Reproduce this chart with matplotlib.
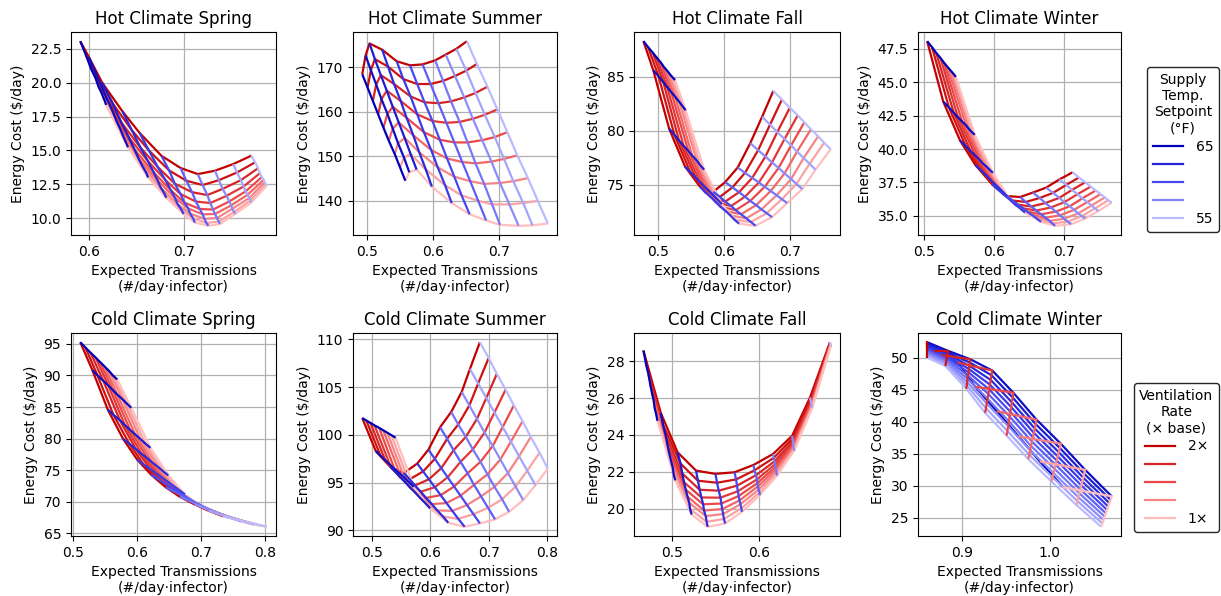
import numpy as np
import matplotlib
matplotlib.use("Agg")
import matplotlib.pyplot as plt
from matplotlib.colors import LinearSegmentedColormap
from matplotlib.lines import Line2D

# ---------------- data ----------------
# rows = supply temperature setpoint (65 F -> 55 F), columns = ventilation rate (2x -> 1x)
titles = ["Hot Climate Spring", "Hot Climate Summer", "Hot Climate Fall", "Hot Climate Winter",
          "Cold Climate Spring", "Cold Climate Summer", "Cold Climate Fall", "Cold Climate Winter"]

hot_spring_x = [
    [.591, .597, .602, .607, .610, .613, .615, .617, .618],
    [.600, .609, .617, .624, .629, .633, .636, .639, .641],
    [.614, .625, .634, .642, .648, .652, .656, .660, .662],
    [.635, .645, .654, .662, .668, .672, .675, .679, .681],
    [.653, .663, .672, .680, .686, .690, .693, .697, .699],
    [.676, .684, .690, .696, .700, .704, .706, .709, .711],
    [.696, .702, .708, .712, .716, .719, .721, .723, .725],
    [.714, .719, .724, .727, .730, .732, .734, .736, .737],
    [.732, .736, .740, .744, .747, .749, .750, .752, .753],
    [.751, .755, .759, .762, .764, .766, .768, .769, .770],
    [.770, .774, .777, .779, .781, .783, .784, .785, .786]]
hot_spring_y = [
    [23.07, 22.03, 21.09, 20.34, 19.73, 19.30, 18.93, 18.60, 18.36],
    [21.90, 20.43, 19.10, 18.03, 17.16, 16.56, 16.03, 15.56, 15.23],
    [20.00, 18.46, 17.06, 15.94, 15.03, 14.40, 13.84, 13.35, 13.00],
    [17.90, 16.49, 15.21, 14.19, 13.36, 12.78, 12.27, 11.82, 11.50],
    [16.30, 14.98, 13.78, 12.82, 12.04, 11.50, 11.02, 10.60, 10.30],
    [14.60, 13.52, 12.54, 11.77, 11.14, 10.71, 10.33, 9.99, 9.67],
    [13.70, 12.76, 11.91, 11.22, 10.67, 10.28, 9.94, 9.64, 9.43],
    [13.25, 12.44, 11.70, 11.11, 10.63, 10.30, 10.00, 9.74, 9.56],
    [13.50, 12.80, 12.16, 11.64, 11.23, 10.94, 10.68, 10.46, 10.30],
    [13.99, 13.37, 12.80, 12.34, 11.97, 11.72, 11.49, 11.29, 11.15],
    [14.61, 14.12, 13.68, 13.32, 13.03, 12.83, 12.66, 12.50, 12.39]]

hot_summer_x = [
    [.493, .501, .509, .517, .525, .533, .542, .550, .558],
    [.498, .506, .514, .522, .531, .539, .547, .556, .564],
    [.504, .512, .521, .530, .539, .548, .557, .566, .575],
    [.523, .532, .541, .551, .560, .570, .579, .589, .598],
    [.545, .555, .566, .576, .586, .597, .607, .618, .628],
    [.565, .576, .587, .599, .610, .621, .632, .643, .655],
    [.584, .596, .608, .620, .632, .644, .656, .668, .680],
    [.603, .615, .627, .640, .652, .664, .677, .689, .701],
    [.619, .633, .647, .660, .674, .688, .701, .715, .729],
    [.635, .650, .664, .678, .693, .707, .721, .736, .750],
    [.651, .666, .682, .697, .712, .727, .743, .758, .773]]
hot_summer_y = [
    [168.4, 165.4, 162.4, 159.4, 156.4, 153.5, 150.5, 147.5, 144.5],
    [172.6, 169.3, 166.1, 162.8, 159.5, 156.2, 152.9, 149.7, 146.4],
    [175.3, 171.8, 168.2, 164.7, 161.1, 157.6, 154.1, 150.5, 147.0],
    [173.9, 170.1, 166.2, 162.4, 158.6, 154.7, 150.9, 147.0, 143.2],
    [171.3, 167.3, 163.4, 159.4, 155.4, 151.4, 147.5, 143.5, 139.5],
    [170.4, 166.2, 162.1, 157.9, 153.7, 149.5, 145.4, 141.2, 137.0],
    [170.6, 166.2, 161.9, 157.5, 153.1, 148.7, 144.4, 140.0, 135.6],
    [171.5, 166.9, 162.3, 157.7, 153.1, 148.4, 143.8, 139.2, 134.6],
    [172.8, 168.0, 163.2, 158.4, 153.6, 148.8, 144.0, 139.2, 134.4],
    [174.1, 169.2, 164.2, 159.3, 154.3, 149.4, 144.4, 139.5, 134.5],
    [175.8, 170.7, 165.6, 160.5, 155.4, 150.2, 145.1, 140.0, 134.9]]

hot_fall_x = [
    [.478, .485, .492, .498, .504, .509, .515, .520, .526],
    [.493, .501, .508, .514, .520, .526, .532, .537, .542],
    [.517, .525, .532, .539, .546, .552, .559, .564, .570],
    [.541, .549, .557, .564, .571, .578, .585, .591, .597],
    [.564, .572, .581, .588, .595, .603, .610, .616, .623],
    [.584, .594, .602, .611, .618, .626, .634, .641, .648],
    [.602, .613, .623, .632, .640, .649, .657, .665, .673],
    [.621, .632, .643, .653, .662, .671, .680, .688, .696],
    [.640, .652, .663, .673, .683, .692, .702, .710, .719],
    [.658, .670, .681, .692, .702, .711, .721, .730, .739],
    [.675, .688, .700, .712, .722, .732, .743, .752, .762]]
hot_fall_y = [
    [88.30, 87.76, 87.26, 86.79, 86.36, 85.92, 85.49, 85.10, 84.70],
    [85.60, 85.05, 84.53, 84.05, 83.60, 83.16, 82.71, 82.31, 81.90],
    [80.20, 79.63, 79.10, 78.60, 78.15, 77.69, 77.24, 76.82, 76.40],
    [76.70, 76.18, 75.69, 75.23, 74.81, 74.39, 73.97, 73.59, 73.20],
    [74.80, 74.29, 73.81, 73.37, 72.96, 72.56, 72.15, 71.77, 71.40],
    [74.35, 73.88, 73.44, 73.03, 72.65, 72.27, 71.89, 71.55, 71.20],
    [75.25, 74.76, 74.31, 73.89, 73.50, 73.11, 72.72, 72.36, 72.00],
    [76.60, 76.10, 75.64, 75.21, 74.82, 74.42, 74.03, 73.66, 73.30],
    [78.85, 78.21, 77.62, 77.07, 76.56, 76.05, 75.53, 75.07, 74.60],
    [81.30, 80.57, 79.88, 79.24, 78.65, 78.07, 77.48, 76.94, 76.40],
    [83.70, 82.89, 82.13, 81.43, 80.78, 80.14, 79.49, 78.89, 78.30]]

hot_winter_x = [
    [.504, .511, .517, .523, .528, .533, .538, .542, .545],
    [.527, .535, .542, .548, .554, .560, .564, .568, .572],
    [.551, .559, .566, .573, .579, .584, .590, .594, .598],
    [.573, .581, .589, .595, .601, .607, .612, .616, .620],
    [.597, .605, .612, .619, .625, .630, .636, .640, .644],
    [.618, .626, .634, .641, .647, .653, .659, .663, .667],
    [.637, .645, .653, .660, .667, .673, .679, .683, .687],
    [.655, .665, .673, .681, .688, .694, .700, .705, .710],
    [.674, .684, .693, .700, .708, .714, .720, .725, .730],
    [.693, .703, .711, .719, .726, .733, .739, .744, .749],
    [.712, .721, .730, .738, .745, .752, .758, .763, .768]]
hot_winter_y = [
    [48.06, 47.61, 47.18, 46.81, 46.46, 46.14, 45.84, 45.60, 45.39],
    [43.54, 43.12, 42.72, 42.37, 42.05, 41.75, 41.48, 41.26, 41.06],
    [40.64, 40.23, 39.84, 39.50, 39.19, 38.90, 38.63, 38.41, 38.22],
    [38.80, 38.39, 38.01, 37.67, 37.36, 37.07, 36.81, 36.59, 36.40],
    [37.35, 36.99, 36.66, 36.36, 36.09, 35.84, 35.61, 35.42, 35.25],
    [36.48, 36.15, 35.84, 35.57, 35.32, 35.09, 34.88, 34.70, 34.55],
    [36.41, 36.04, 35.70, 35.40, 35.12, 34.86, 34.63, 34.43, 34.26],
    [36.74, 36.34, 35.96, 35.63, 35.32, 35.04, 34.78, 34.57, 34.38],
    [37.11, 36.72, 36.35, 36.02, 35.72, 35.45, 35.19, 34.98, 34.80],
    [37.72, 37.32, 36.94, 36.62, 36.31, 36.03, 35.77, 35.56, 35.37],
    [38.26, 37.87, 37.51, 37.19, 36.90, 36.63, 36.38, 36.17, 35.99]]

cold_spring_x = [
    [.511, .519, .527, .535, .542, .549, .556, .562, .569],
    [.530, .538, .547, .555, .562, .569, .577, .584, .591],
    [.554, .563, .573, .581, .589, .597, .605, .613, .621],
    [.578, .588, .598, .607, .616, .624, .633, .641, .649],
    [.600, .610, .621, .631, .640, .649, .658, .667, .675],
    [.622, .633, .644, .654, .663, .673, .682, .691, .700],
    [.645, .656, .667, .677, .686, .695, .704, .714, .722],
    [.667, .678, .688, .698, .707, .716, .726, .735, .743],
    [.690, .700, .710, .720, .729, .737, .746, .755, .763],
    [.712, .722, .732, .741, .750, .759, .767, .775, .783],
    [.735, .745, .754, .763, .771, .779, .787, .796, .803]]
cold_spring_y = [
    [95.26, 94.43, 93.61, 92.84, 92.13, 91.43, 90.72, 90.01, 89.36],
    [90.84, 90.01, 89.17, 88.40, 87.68, 86.97, 86.25, 85.54, 84.88],
    [84.62, 83.77, 82.92, 82.13, 81.40, 80.67, 79.95, 79.22, 78.55],
    [79.98, 79.17, 78.36, 77.60, 76.91, 76.21, 75.51, 74.82, 74.18],
    [76.71, 75.93, 75.16, 74.44, 73.77, 73.11, 72.44, 71.78, 71.17],
    [74.30, 73.60, 72.90, 72.25, 71.65, 71.05, 70.45, 69.85, 69.30],
    [72.30, 71.74, 71.18, 70.66, 70.18, 69.70, 69.22, 68.74, 68.30],
    [70.80, 70.34, 69.88, 69.45, 69.05, 68.66, 68.26, 67.86, 67.50],
    [69.60, 69.22, 68.84, 68.49, 68.17, 67.82, 67.52, 67.20, 66.90],
    [68.60, 68.29, 67.98, 67.70, 67.43, 67.17, 66.91, 66.64, 66.40],
    [67.70, 67.47, 67.24, 67.03, 66.83, 66.63, 66.44, 66.24, 66.06]]

cold_summer_x = [
    [.484, .491, .498, .505, .513, .520, .527, .534, .541],
    [.507, .515, .523, .531, .539, .548, .556, .564, .572],
    [.532, .541, .549, .558, .566, .575, .583, .592, .600],
    [.555, .565, .574, .584, .593, .603, .612, .622, .631],
    [.578, .588, .598, .608, .618, .628, .638, .648, .659],
    [.597, .608, .619, .630, .641, .652, .663, .674, .685],
    [.617, .629, .640, .652, .664, .675, .687, .699, .711],
    [.636, .648, .661, .673, .686, .698, .710, .723, .735],
    [.654, .667, .680, .693, .707, .720, .733, .746, .759],
    [.668, .682, .696, .710, .724, .738, .752, .766, .780],
    [.685, .700, .714, .729, .743, .758, .772, .787, .801]]
cold_summer_y = [
    [101.76, 101.50, 101.25, 100.99, 100.73, 100.47, 100.22, 99.96, 99.70],
    [98.31, 97.84, 97.37, 96.90, 96.44, 95.97, 95.50, 95.03, 94.56],
    [96.64, 96.10, 95.55, 95.01, 94.47, 93.93, 93.39, 92.84, 92.30],
    [96.00, 95.35, 94.70, 94.05, 93.40, 92.75, 92.10, 91.45, 90.80],
    [97.00, 96.17, 95.35, 94.52, 93.69, 92.86, 92.04, 91.21, 90.38],
    [98.45, 97.49, 96.52, 95.56, 94.59, 93.63, 92.66, 91.70, 90.73],
    [100.80, 99.59, 98.39, 97.18, 95.98, 94.77, 93.56, 92.36, 91.15],
    [102.40, 101.09, 99.79, 98.48, 97.18, 95.87, 94.56, 93.26, 91.95],
    [104.50, 103.08, 101.67, 100.25, 98.84, 97.42, 96.00, 94.59, 93.17],
    [106.90, 105.38, 103.86, 102.34, 100.82, 99.29, 97.77, 96.25, 94.73],
    [109.70, 108.05, 106.39, 104.74, 103.09, 101.43, 99.78, 98.13, 96.47]]

cold_fall_x = [
    [.4672, .4700, .4730, .4750, .4770, .4790, .4800, .4820, .4834],
    [.4873, .4900, .4930, .4950, .4970, .4990, .5010, .5020, .5039],
    [.5066, .5100, .5120, .5140, .5160, .5180, .5200, .5210, .5228],
    [.5278, .5300, .5320, .5340, .5360, .5370, .5390, .5400, .5413],
    [.5502, .5520, .5540, .5560, .5570, .5580, .5590, .5600, .5614],
    [.5722, .5740, .5750, .5760, .5770, .5780, .5790, .5800, .5807],
    [.5942, .5950, .5970, .5980, .5985, .5990, .6000, .6010, .6012],
    [.6166, .6174, .6182, .6188, .6194, .6199, .6203, .6208, .6212],
    [.6386, .6390, .6394, .6397, .6400, .6402, .6405, .6407, .6409],
    [.6591, .6596, .6600, .6604, .6607, .6610, .6613, .6616, .6618],
    [.6822, .6823, .6825, .6826, .6827, .6828, .6828, .6829, .6830]]
cold_fall_y = [
    [28.58, 27.89, 27.28, 26.75, 26.29, 25.87, 25.49, 25.10, 24.76],
    [25.18, 24.52, 23.94, 23.43, 22.99, 22.59, 22.22, 21.86, 21.53],
    [23.05, 22.44, 21.90, 21.43, 21.02, 20.65, 20.31, 19.97, 19.67],
    [22.06, 21.51, 21.02, 20.60, 20.23, 19.89, 19.59, 19.28, 19.01],
    [21.88, 21.40, 20.97, 20.59, 20.27, 19.97, 19.70, 19.43, 19.19],
    [21.97, 21.58, 21.24, 20.94, 20.68, 20.44, 20.23, 20.01, 19.82],
    [22.37, 22.07, 21.81, 21.58, 21.38, 21.20, 21.03, 20.87, 20.72],
    [22.96, 22.75, 22.56, 22.40, 22.26, 22.13, 22.01, 21.90, 21.79],
    [23.95, 23.80, 23.67, 23.56, 23.46, 23.37, 23.29, 23.21, 23.14],
    [26.02, 25.92, 25.84, 25.76, 25.70, 25.64, 25.58, 25.53, 25.48],
    [29.03, 28.99, 28.96, 28.92, 28.90, 28.87, 28.85, 28.83, 28.81]]

# cold winter stored per ventilation rate (rows 2x -> 1x), columns 65 F -> 55 F
cold_winter_x_by_vent = [
    [.8604, .8604, .8604, .8604, .8604, .8604, .8604, .8604, .8604, .8604, .8604],
    [.8680, .8842, .8839, .8835, .8832, .8828, .8825, .8821, .8818, .8815, .8811],
    [.8770, .9094, .9089, .9084, .9079, .9074, .9069, .9064, .9059, .9054, .9049],
    [.8951, .9345, .9336, .9327, .9318, .9309, .9300, .9291, .9282, .9273, .9264],
    [.9151, .9585, .9577, .9568, .9560, .9551, .9543, .9534, .9526, .9517, .9509],
    [.9396, .9849, .9839, .9828, .9818, .9807, .9797, .9786, .9776, .9765, .9755],
    [.9642, 1.0125, 1.0113, 1.0101, 1.0090, 1.0078, 1.0066, 1.0054, 1.0043, 1.0031, 1.0019],
    [.9887, 1.0402, 1.0391, 1.0380, 1.0369, 1.0358, 1.0346, 1.0335, 1.0324, 1.0313, 1.0302],
    [1.0151, 1.0705, 1.0692, 1.0678, 1.0665, 1.0652, 1.0638, 1.0625, 1.0612, 1.0598, 1.0585]]
cold_winter_y_by_vent = [
    [51.50, 52.40, 52.13, 51.87, 51.60, 51.33, 51.07, 50.80, 50.53, 50.27, 50.00],
    [51.00, 51.05, 50.79, 50.53, 50.26, 50.00, 49.74, 49.48, 49.21, 48.95, 48.69],
    [50.40, 49.74, 49.23, 48.72, 48.21, 47.70, 47.18, 46.67, 46.16, 45.65, 45.14],
    [49.22, 47.98, 47.25, 46.51, 45.78, 45.04, 44.31, 43.57, 42.84, 42.10, 41.37],
    [45.45, 44.51, 43.77, 43.02, 42.28, 41.53, 40.79, 40.04, 39.30, 38.55, 37.81],
    [41.63, 40.30, 39.62, 38.93, 38.25, 37.57, 36.88, 36.20, 35.52, 34.83, 34.15],
    [37.71, 36.55, 35.89, 35.24, 34.58, 33.93, 33.27, 32.62, 31.96, 31.31, 30.65],
    [33.79, 32.48, 31.87, 31.26, 30.65, 30.04, 29.43, 28.82, 28.21, 27.60, 26.99],
    [29.76, 28.33, 27.80, 27.28, 26.75, 26.22, 25.70, 25.17, 24.64, 24.12, 23.59]]

x_ticks = [[0.6, 0.7], [0.5, 0.6, 0.7], [0.5, 0.6, 0.7], [0.5, 0.6, 0.7],
           [0.5, 0.6, 0.7, 0.8], [0.5, 0.6, 0.7, 0.8], [0.5, 0.6], [0.9, 1.0]]
y_ticks = [[10, 12.5, 15, 17.5, 20, 22.5], [140, 150, 160, 170], [75, 80, 85],
           [35, 37.5, 40, 42.5, 45, 47.5], [65, 70, 75, 80, 85, 90, 95],
           [90, 95, 100, 105, 110], [20, 22, 24, 26, 28], [25, 30, 35, 40, 45, 50]]

temp_legend_labels = ["65", "", "", "", "55"]
vent_legend_labels = ["2\u00d7", "", "", "", "1\u00d7"]

# ---------------- drawing ----------------
blue_cmap = LinearSegmentedColormap.from_list("b", [(0.0, 0.0, 0.72), (0.28, 0.28, 0.95), (0.73, 0.73, 1.0)])
red_cmap = LinearSegmentedColormap.from_list("r", [(0.76, 0.0, 0.0), (0.93, 0.28, 0.28), (1.0, 0.75, 0.75)])

grids = [
    (np.array(hot_spring_x), np.array(hot_spring_y)),
    (np.array(hot_summer_x), np.array(hot_summer_y)),
    (np.array(hot_fall_x), np.array(hot_fall_y)),
    (np.array(hot_winter_x), np.array(hot_winter_y)),
    (np.array(cold_spring_x), np.array(cold_spring_y)),
    (np.array(cold_summer_x), np.array(cold_summer_y)),
    (np.array(cold_fall_x), np.array(cold_fall_y)),
    (np.array(cold_winter_x_by_vent).T, np.array(cold_winter_y_by_vent).T),
]

fig = plt.figure(figsize=(12.21, 5.96), dpi=100)
lefts = [0.0581, 0.2891, 0.5193, 0.7518]
widths = [0.1679, 0.1671, 0.1687, 0.1663]
bottoms = [0.6057, 0.1007]
height = 0.3406
LW = 1.6

axes = []
for k in range(8):
    r, c = divmod(k, 4)
    ax = fig.add_axes([lefts[c], bottoms[r], widths[c], height])
    axes.append(ax)
    X, Y = grids[k]
    nT, nV = X.shape
    red_on_top = (k == 7)
    for i in range(nV):
        ax.plot(X[:, i], Y[:, i], color=red_cmap(i / (nV - 1)), lw=LW,
                zorder=4 if red_on_top else 2, solid_capstyle="butt")
    for j in range(nT):
        ax.plot(X[j, :], Y[j, :], color=blue_cmap(j / (nT - 1)), lw=LW,
                zorder=3, solid_capstyle="butt")
    ax.set_xticks(x_ticks[k])
    ax.set_yticks(y_ticks[k])
    ax.grid(True, color="#b0b0b0", lw=0.9)
    ax.set_axisbelow(True)
    ax.set_title(titles[k], fontsize=12)
    ax.set_xlabel("Expected Transmissions\n(#/day\u00b7infector)", fontsize=10)
    ax.set_ylabel("Energy Cost ($/day)", fontsize=10)

temp_handles = [Line2D([], [], color=blue_cmap(t), lw=LW) for t in np.linspace(0, 1, 5)]
vent_handles = [Line2D([], [], color=red_cmap(t), lw=LW) for t in np.linspace(0, 1, 5)]

common = dict(fontsize=10, title_fontsize=10, labelspacing=0.3, framealpha=1, edgecolor="0.15",
              handlelength=2.2, handletextpad=0.9, borderpad=0.4, borderaxespad=0.0,
              loc="center right", bbox_transform=fig.transFigure)
leg1 = axes[3].legend(temp_handles, temp_legend_labels, title="Supply\nTemp.\nSetpoint\n(\u00b0F)",
                      bbox_to_anchor=(1219 / 1221, 1 - 149.5 / 596), **common)
leg2 = axes[7].legend(vent_handles, vent_legend_labels, title="Ventilation\nRate\n(\u00d7 base)",
                      bbox_to_anchor=(1219 / 1221, 1 - 457.5 / 596), **common)
for leg in (leg1, leg2):
    leg.get_title().set_multialignment("center")
    leg.get_frame().set_linewidth(1.0)

fig.savefig("out.png", dpi=100)
